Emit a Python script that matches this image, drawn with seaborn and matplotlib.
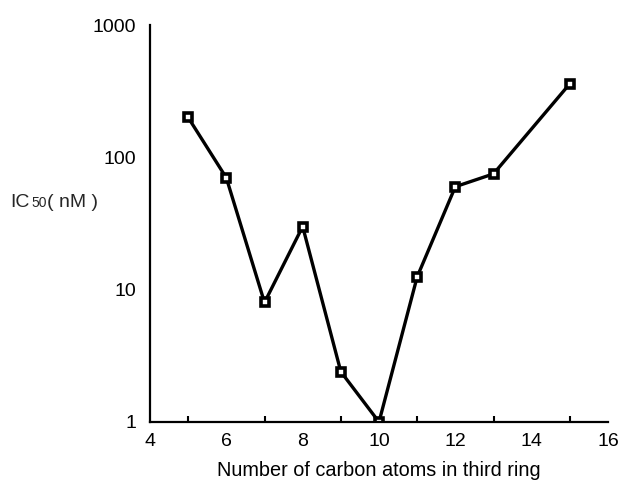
import matplotlib
matplotlib.use("Agg")
import matplotlib.pyplot as plt
import seaborn as sns
import pandas as pd
from matplotlib.ticker import FixedLocator, NullLocator, FixedFormatter

carbons = [5, 6, 7, 8, 9, 10, 11, 12, 13, 15]
ic50 = [200, 70, 8, 30, 2.4, 1, 12.5, 60, 75, 360]
xticks = [4, 6, 8, 10, 12, 14, 16]
yticks = [1, 10, 100, 1000]
ytick_labels = ["1", "10", "100", "1000"]

sns.set_theme(style="white")
plt.rcParams['font.family'] = ['Liberation Sans', 'DejaVu Sans']

df = pd.DataFrame({"carbons": carbons, "ic50": ic50})

fig = plt.figure(figsize=(6.2, 4.87), dpi=100)
ax = fig.add_axes([150/620, 1-422/487, (608-150)/620, (422-25)/487])

sns.lineplot(data=df, x="carbons", y="ic50", ax=ax, color="black", lw=2.4,
             marker="s", markersize=5.2, markerfacecolor="white",
             markeredgecolor="black", markeredgewidth=2.6)

ax.set_yscale("log")
ax.set_xlim(4, 16)
ax.set_ylim(1, 1000)
ax.set_xticks(xticks)
ax.xaxis.set_minor_locator(FixedLocator([5, 7, 9, 11, 13, 15]))
ax.yaxis.set_major_locator(FixedLocator(yticks))
ax.yaxis.set_major_formatter(FixedFormatter(ytick_labels))
ax.yaxis.set_minor_locator(NullLocator())

for s in ["top", "right"]:
    ax.spines[s].set_visible(False)
for s in ["left", "bottom"]:
    ax.spines[s].set_color("black")
    ax.spines[s].set_linewidth(1.6)

ax.tick_params(axis="both", which="major", direction="in", length=6, width=1.5,
               color="black", labelsize=14, labelcolor="black")
ax.tick_params(axis="x", which="major", pad=8)
ax.tick_params(axis="y", which="major", pad=10)
ax.tick_params(axis="x", which="minor", direction="in", length=4, width=1.5,
               color="black", bottom=True)

ax.set_xlabel("Number of carbon atoms in third ring", fontsize=14.3, color="black", labelpad=8)
ax.set_ylabel("")

y_lab = 1 - 202.5/487
fig.text(10/620, y_lab, "IC", fontsize=14, va="center", ha="left")
fig.text(31/620, y_lab - 0.002, "50", fontsize=10, va="center", ha="left")
fig.text(47/620, y_lab, "( nM )", fontsize=14, va="center", ha="left")

fig.savefig("out.png", dpi=100)
